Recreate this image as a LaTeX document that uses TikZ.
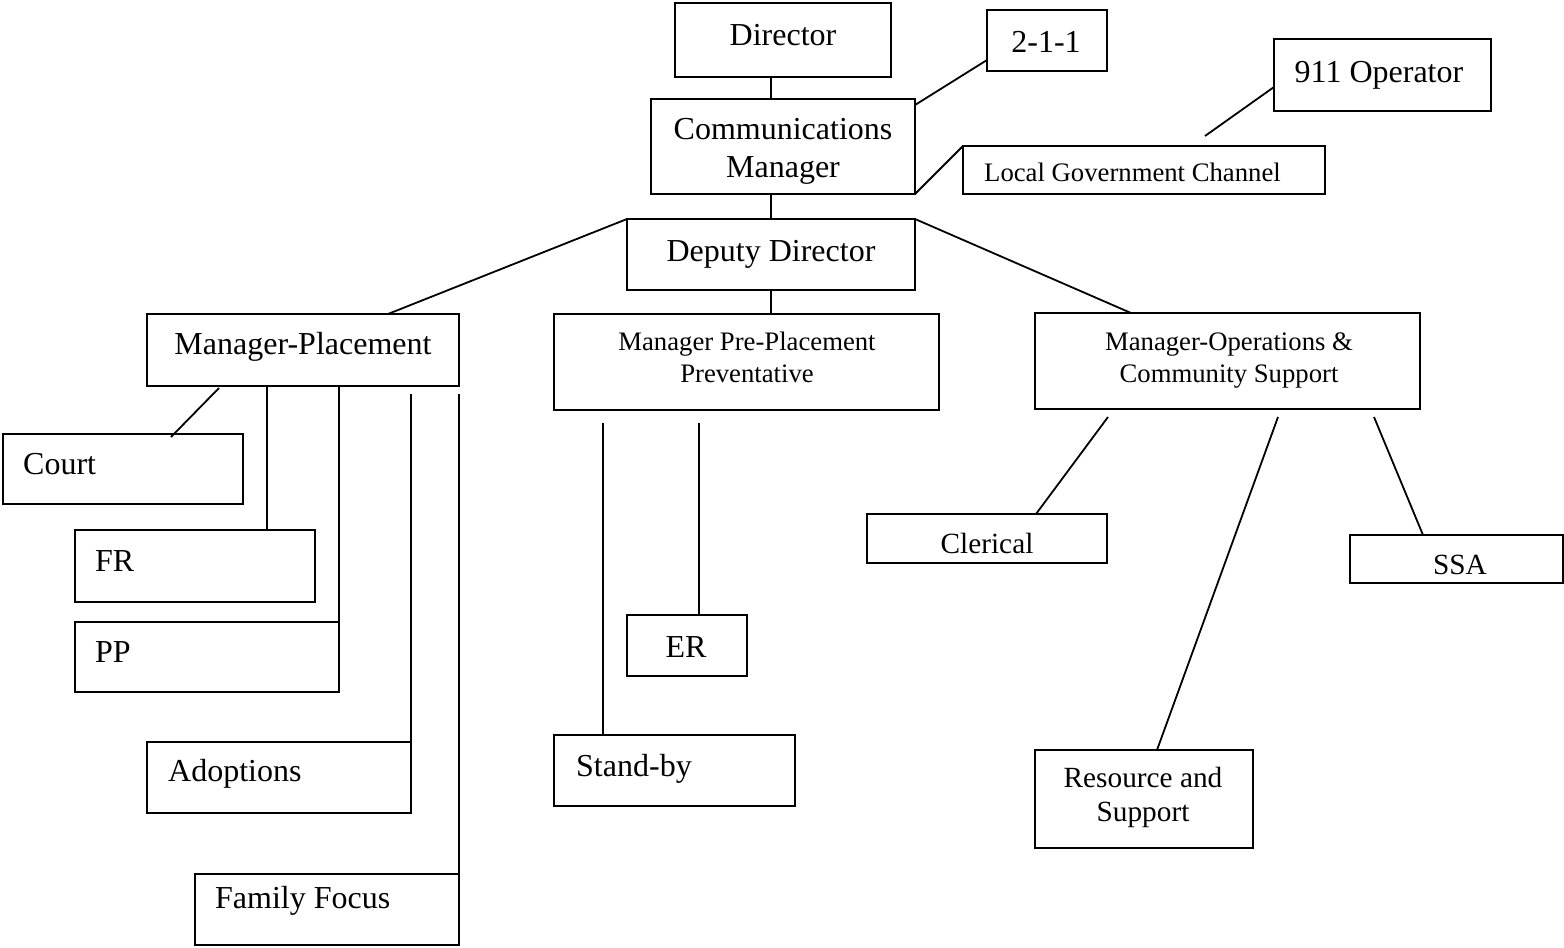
\documentclass[tikz,border=0pt]{standalone}
\usepackage{fontspec}
\setmainfont{Liberation Serif}
\newcommand\fbig{\fontsize{32}{38}\selectfont}
\newcommand\fmid{\fontsize{29.3}{34}\selectfont}
\newcommand\fsmall{\fontsize{26.7}{32}\selectfont}
\begin{document}
\begin{tikzpicture}[x=1pt,y=-1pt,
  box/.style={draw, line width=1.8pt, inner sep=0pt, outer sep=0pt, rectangle},
  conn/.style={line width=1.8pt},
  txt/.style={inner sep=0pt, anchor=base, align=center},
  txtl/.style={inner sep=0pt, anchor=base west, align=left}]
\useasboundingbox (0,0) rectangle (1564,948);
% boxes
\node[box, minimum width=216pt, minimum height=74pt] (dir) at (783,40) {};
\node[box, minimum width=120pt, minimum height=61pt] (t211) at (1047,40.5) {};
\node[box, minimum width=217pt, minimum height=72pt] (op911) at (1382.5,75) {};
\node[box, minimum width=264pt, minimum height=95pt] (comm) at (783,146.5) {};
\node[box, minimum width=362pt, minimum height=48pt] (lgc) at (1144,170) {};
\node[box, minimum width=288pt, minimum height=71pt] (dep) at (771,254.5) {};
\node[box, minimum width=312pt, minimum height=72pt] (mpl) at (303,350) {};
\node[box, minimum width=385pt, minimum height=96pt] (mpre) at (746.5,362) {};
\node[box, minimum width=385pt, minimum height=96pt] (mops) at (1227.5,361) {};
\node[box, minimum width=240pt, minimum height=70pt] (court) at (123,469) {};
\node[box, minimum width=240pt, minimum height=72pt] (fr) at (195,566) {};
\node[box, minimum width=264pt, minimum height=70pt] (pp) at (207,657) {};
\node[box, minimum width=264pt, minimum height=71pt] (adop) at (279,777.5) {};
\node[box, minimum width=264pt, minimum height=71pt] (ff) at (327,909.5) {};
\node[box, minimum width=240pt, minimum height=49pt] (cler) at (987,538.5) {};
\node[box, minimum width=213pt, minimum height=48pt] (ssa) at (1456.5,559) {};
\node[box, minimum width=120pt, minimum height=61pt] (er) at (687,645.5) {};
\node[box, minimum width=241pt, minimum height=71pt] (stby) at (674.5,770.5) {};
\node[box, minimum width=218pt, minimum height=98pt] (res) at (1144,799) {};
% texts (multi-line nodes: base = last line's baseline)
\node[txt, font=\fbig] (dirT) at (783,45) {Director};
\node[txt, font=\fbig] (t211T) at (1046,52) {2-1-1};
\node[txt, font=\fbig] (op911T) at (1379,82) {911 Operator};
\node[txt, font=\fbig] (commT) at (783,177) {Communications\\Manager};
\node[txtl, font=\fsmall] (lgcT) at (984,181) {Local Government Channel};
\node[txt, font=\fbig] (depT) at (771,261) {Deputy Director};
\node[txt, font=\fbig] (mplT) at (303,354) {Manager-Placement};
\node[txt, font=\fsmall] (mpreT) at (747,382) {Manager Pre-Placement\\Preventative};
\node[txt, font=\fsmall] (mopsT) at (1229,382) {Manager-Operations \&\\Community Support};
\node[txtl, font=\fbig] (courtT) at (23,474) {Court};
\node[txtl, font=\fbig] (frT) at (95,571) {FR};
\node[txtl, font=\fbig] (ppT) at (95,662) {PP};
\node[txtl, font=\fbig] (adopT) at (168,781) {Adoptions};
\node[txtl, font=\fbig] (ffT) at (215,908) {Family Focus};
\node[txt, font=\fmid] (clerT) at (987,553) {Clerical};
\node[txt, font=\fmid] (ssaT) at (1460,574) {SSA};
\node[txt, font=\fbig] (erT) at (686,657) {ER};
\node[txtl, font=\fbig] (stbyT) at (576,776) {Stand-by};
\node[txt, font=\fmid] (resT) at (1143,821) {Resource and\\Support};
% free ends
\coordinate (c911) at (1205,136);
\coordinate (ccourt) at (219,388);
\coordinate (cadop) at (411,394);
\coordinate (cff) at (459,394);
\coordinate (cstby) at (603,423);
\coordinate (cer) at (699,423);
\coordinate (ccler) at (1108,417);
\coordinate (cres) at (1278,417);
\coordinate (cssa) at (1374,417);
% connectors
\draw[conn] ([xshift=-12pt]dir.south) -- ([xshift=-12pt]comm.north);
\draw[conn] ([xshift=-12pt]comm.south) -- (dep.north);
\draw[conn] (dep.south) -- ([xshift=24.5pt]mpre.north);
\draw[conn] ([yshift=-6pt]comm.north east) -- ([yshift=-19.5pt]t211.west);
\draw[conn] (comm.south east) -- (lgc.north west);
\draw[conn] (c911) -- ([yshift=-12pt]op911.west);
\draw[conn] (dep.north west) -- ([xshift=85pt]mpl.north);
\draw[conn] (dep.north east) -- ([xshift=-96.5pt]mops.north);
\draw[conn] (ccourt) -- ([xshift=48pt,yshift=-3pt]court.north);
\draw[conn] ([xshift=-36pt]mpl.south) -- ([xshift=72pt]fr.north);
\draw[conn] ([xshift=36pt]mpl.south) -- (pp.north east);
\draw[conn] (cadop) -- (adop.north east);
\draw[conn] (cff) -- (ff.north east);
\draw[conn] (cstby) -- ([xshift=-71.5pt]stby.north);
\draw[conn] (cer) -- ([xshift=12pt]er.north);
\draw[conn] (ccler) -- ([xshift=49pt]cler.north);
\draw[conn] (cres) -- ([xshift=13pt]res.north);
\draw[conn] (cssa) -- ([xshift=-33.5pt]ssa.north);
\end{tikzpicture}
\end{document}
